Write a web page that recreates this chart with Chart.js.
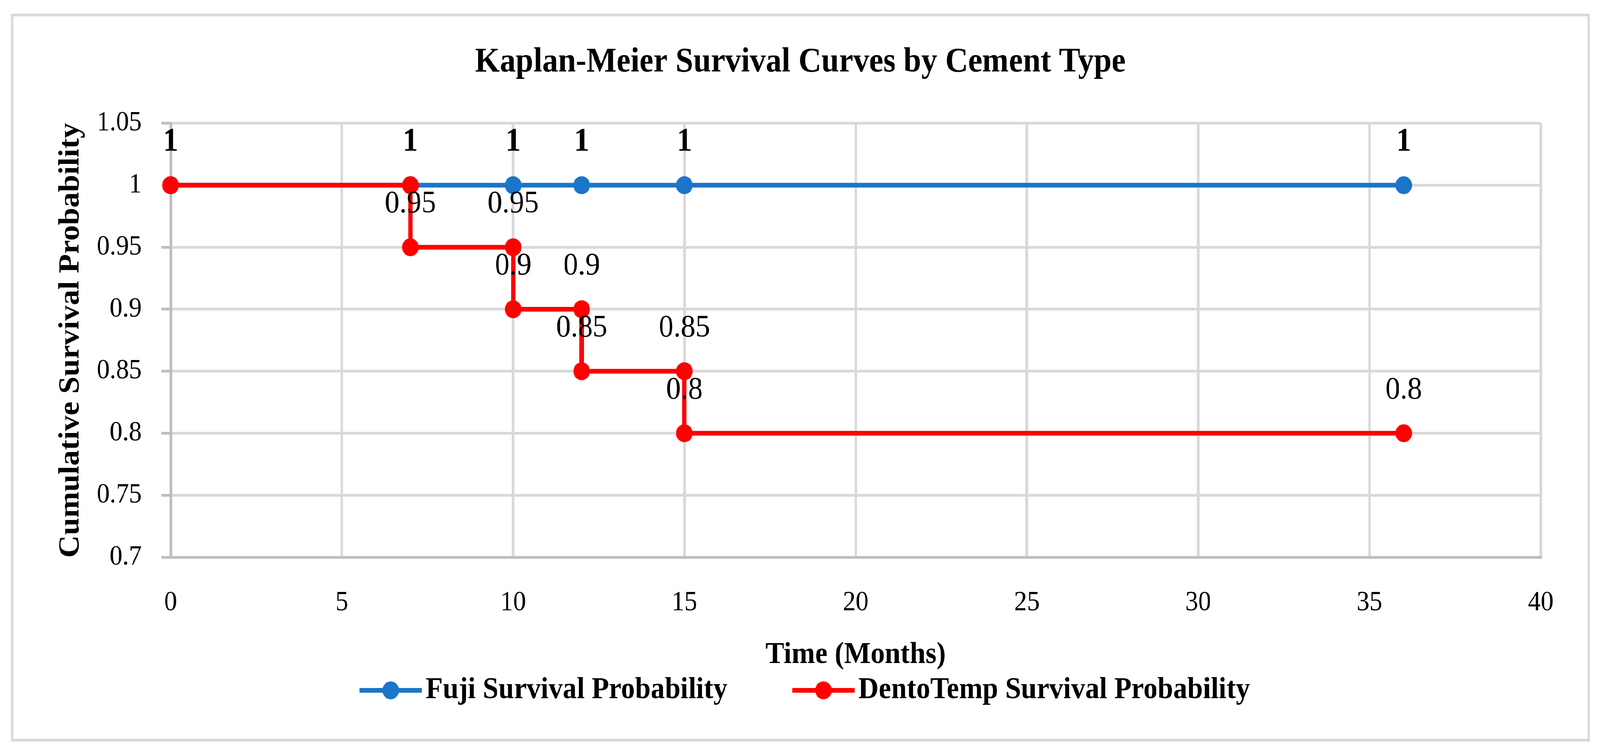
<!DOCTYPE html>
<html>
<head>
<meta charset="utf-8">
<script src="https://cdn.jsdelivr.net/npm/chart.js@4.4.0/dist/chart.umd.min.js"></script>
<style>
html,body{margin:0;background:#fff;overflow:hidden}
#page{position:absolute;left:0;top:0;width:4426px;height:1931px;transform-origin:0 0}
#box{position:absolute;left:30px;top:35px;width:4354px;height:1850px;border:7px solid #d9d9d9}
</style>
</head>
<body>
<div id="page"><div id="box"><canvas id="km"></canvas></div></div>
<script>
const fujiTime=[0,7,10,12,15,36]
const fujiSurv=[1,1,1,1,1,1]
const dentoTime=[0,7,7,10,10,12,12,15,15,36]
const dentoSurv=[1,1,0.95,0.95,0.9,0.9,0.85,0.85,0.8,0.8]
const xTicks=[0,5,10,15,20,25,30,35,40]
const yTicks=[0.7,0.75,0.8,0.85,0.9,0.95,1,1.05]
const seriesNames=["Fuji Survival Probability","DentoTemp Survival Probability"]
const colors=["#1b75c8","#ff0000"]

// the page is laid out at 4426x1931 and fitted to whatever viewport we get
document.getElementById("page").style.transform=
"scale("+(window.innerWidth/4426)+","+(window.innerHeight/1931)+")"

const FONT="'Liberation Serif', 'Times New Roman', serif"
Chart.defaults.font.family=FONT
Chart.defaults.color="#000"

// value labels above every point, like Excel's "above" position
const pointLabels={
id:"pointLabels",
afterDatasetsDraw(chart){
const ctx=chart.ctx
ctx.save()
ctx.textAlign="center"
ctx.textBaseline="middle"
ctx.fillStyle="#000"
;[1,0].forEach(i=>{
const ds=chart.data.datasets[i]
ctx.font=(i==0?"bold 84px ":"81px ")+FONT
chart.getDatasetMeta(i).data.forEach((p,j)=>{
ctx.fillText(String(ds.data[j].y),p.x,p.y-110)
})
})
ctx.restore()
}
}

// legend symbol: short line with a marker on it
function legendIcon(color){
let c=document.createElement("canvas")
c.width=226
c.height=50
let g=c.getContext("2d")
g.strokeStyle=color
g.lineWidth=12
g.beginPath()
g.moveTo(53,25)
g.lineTo(226,25)
g.stroke()
g.fillStyle=color
g.beginPath()
g.arc(139.5,25,23,0,Math.PI*2)
g.fill()
return c
}
const icons=colors.map(legendIcon)

function series(xs,ys,i){
return {
label:seriesNames[i],
data:xs.map((t,k)=>({x:t,y:ys[k]})),
borderColor:colors[i],
backgroundColor:colors[i],
borderWidth:12,
pointRadius:23,
pointHoverRadius:23,
pointBackgroundColor:colors[i],
pointBorderWidth:0,
tension:0,
fill:false,
clip:false,
order:i==0?2:1
}
}

new Chart(document.getElementById("km"),{
type:"line",
data:{
datasets:[series(fujiTime,fujiSurv,0),series(dentoTime,dentoSurv,1)]
},
options:{
responsive:true,
maintainAspectRatio:false,
devicePixelRatio:1,
animation:false,
events:[],
layout:{padding:{top:0,left:0,right:0,bottom:75}},
plugins:{
title:{
display:true,
text:"Kaplan-Meier Survival Curves by Cement Type",
font:{size:88,weight:"bold"},
color:"#000",
padding:{top:65,bottom:103}
},
legend:{
position:"bottom",
labels:{
usePointStyle:true,
pointStyleWidth:168,
padding:155,
font:{size:78,weight:"bold"},
color:"#000",
generateLabels(chart){
return chart.data.datasets.map((d,i)=>({
text:d.label,
pointStyle:icons[i],
datasetIndex:i,
fillStyle:d.borderColor,
strokeStyle:d.borderColor,
lineWidth:0,
hidden:false,
fontColor:"#000"
}))
}
}
},
tooltip:{enabled:false}
},
scales:{
x:{
type:"linear",
min:0,
max:40,
afterBuildTicks(s){s.ticks=xTicks.map(v=>({value:v}))},
afterFit(s){s.height=147},
grid:{color:"#d9d9d9",lineWidth:7,drawTicks:false},
border:{color:"#bfbfbf",width:7},
ticks:{padding:75,font:{size:71},color:"#000"},
// legend padding is large (item gap), so the title sits below the scale box
title:{display:true,text:"Time (Months)",font:{size:78,weight:"bold"},color:"#000",padding:{top:0,bottom:-151}}
},
y:{
min:0.7,
max:1.05,
afterBuildTicks(s){s.ticks=yTicks.map(v=>({value:v}))},
afterFit(s){s.width=435},
grid:{color:"#d9d9d9",lineWidth:7,tickColor:"#bfbfbf",tickLength:26},
border:{color:"#bfbfbf",width:7},
ticks:{padding:54,font:{size:71},color:"#000",callback:v=>String(+v.toFixed(2))},
title:{display:true,text:"Cumulative Survival Probability",font:{size:80,weight:"bold"},color:"#000",padding:{top:111,bottom:0}}
},
y2:{
position:"right",
display:true,
grid:{display:false},
border:{display:false},
ticks:{display:false},
afterFit(s){s.width=129}
}
}
},
plugins:[pointLabels]
})
</script>
</body>
</html>
